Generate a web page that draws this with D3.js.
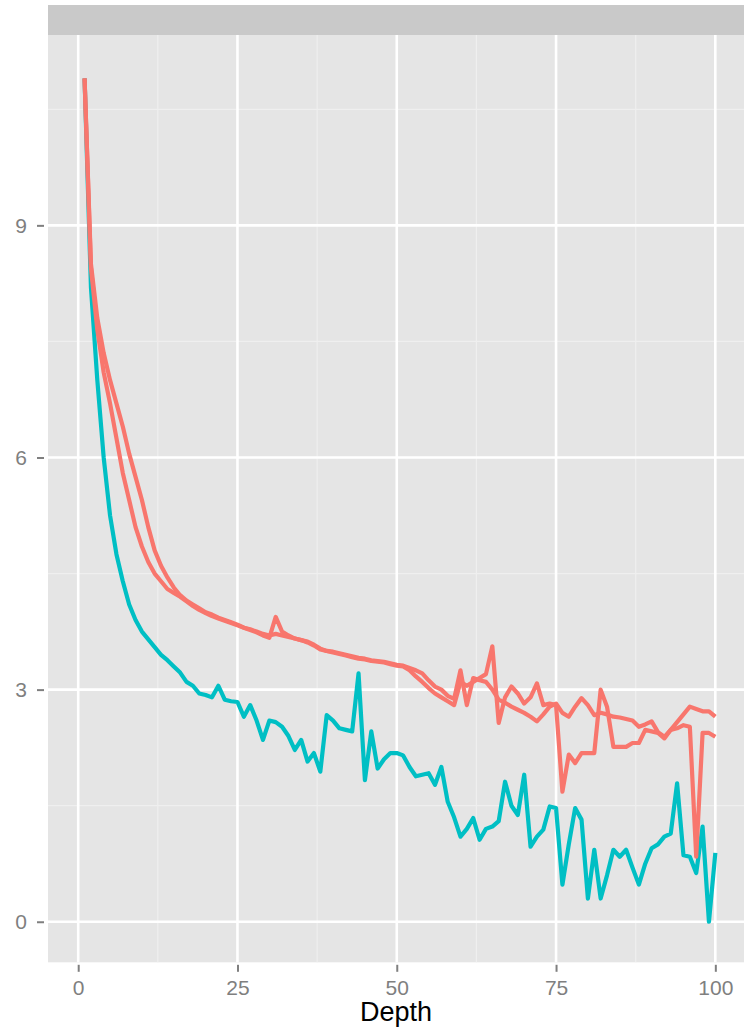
<!DOCTYPE html>
<html>
<head>
<meta charset="utf-8">
<script src="https://cdn.jsdelivr.net/npm/d3@7"></script>
<style>
  html, body { margin: 0; padding: 0; background: #ffffff; }
  svg { display: block; }
</style>
</head>
<body>
<svg id="chart" width="747" height="1029"></svg>
<script>
// Tick labels for both axes
const xTicks = [0, 25, 50, 75, 100];
const yTicks = [0, 3, 6, 9];
const xMinor = [12.5, 37.5, 62.5, 87.5];
const yMinor = [1.5, 4.5, 7.5, 10.5];
const xTitle = "Depth";

// Values by depth 1..100 (index 0 is depth 1)
const redA = [
  10.9, 8.5, 7.8, 7.35, 7.0, 6.7, 6.4, 6.05, 5.75, 5.45,
  5.1, 4.8, 4.6, 4.45, 4.32, 4.22, 4.15, 4.1, 4.05, 4.0,
  3.97, 3.93, 3.9, 3.87, 3.84, 3.8, 3.78, 3.75, 3.72, 3.7,
  3.72, 3.7, 3.68, 3.66, 3.64, 3.62, 3.58, 3.53, 3.5, 3.49,
  3.47, 3.45, 3.43, 3.41, 3.4, 3.38, 3.37, 3.36, 3.34, 3.32,
  3.31, 3.28, 3.25, 3.21, 3.12, 3.04, 3.0, 2.92, 2.88, 3.25,
  2.8, 3.15, 3.12, 3.1, 3.0, 2.87, 2.83, 2.78, 2.74, 2.7,
  2.65, 2.59, 2.68, 2.78, 2.82, 2.7, 2.65, 2.78, 2.89, 2.8,
  2.67, 2.7, 2.68, 2.65, 2.64, 2.62, 2.6, 2.52, 2.55, 2.59,
  2.45, 2.39, 2.48, 2.58, 2.68, 2.78, 2.75, 2.72, 2.72, 2.65
];
const redB = [
  10.9, 8.45, 7.65, 7.1, 6.7, 6.25, 5.8, 5.45, 5.1, 4.85,
  4.65, 4.5, 4.4, 4.3, 4.25, 4.2, 4.14, 4.08, 4.03, 3.99,
  3.95, 3.92, 3.89, 3.86, 3.83, 3.8, 3.77, 3.74, 3.7, 3.67,
  3.94, 3.75, 3.7, 3.66, 3.64, 3.61, 3.57, 3.52, 3.5, 3.48,
  3.46, 3.44, 3.42, 3.4, 3.39, 3.37, 3.36, 3.35, 3.33, 3.31,
  3.3, 3.25, 3.17, 3.1, 3.02, 2.95, 2.9, 2.85, 2.8, 3.1,
  3.05, 3.1, 3.15, 3.2, 3.56, 2.57, 2.9, 3.04, 2.95, 2.82,
  2.9, 3.08, 2.8, 2.82, 2.8, 1.68, 2.16, 2.05, 2.18, 2.18,
  2.18, 3.0, 2.78, 2.26, 2.26, 2.26, 2.31, 2.31, 2.48, 2.46,
  2.44, 2.37, 2.48, 2.5, 2.54, 2.52, 0.84, 2.44, 2.44, 2.39
];
const teal = [
  10.9, 8.2, 7.0, 6.0, 5.25, 4.75, 4.4, 4.1, 3.9, 3.75,
  3.65, 3.55, 3.45, 3.38, 3.3, 3.22, 3.1, 3.05, 2.95, 2.93,
  2.9, 3.05, 2.87, 2.85, 2.84, 2.65, 2.8, 2.6, 2.35, 2.6,
  2.58, 2.52, 2.4, 2.22, 2.35, 2.07, 2.18, 1.94, 2.67, 2.6,
  2.5, 2.48, 2.46, 3.21, 1.83, 2.46, 1.98, 2.1, 2.18, 2.18,
  2.15, 2.0, 1.88, 1.9, 1.92, 1.77, 2.0, 1.55, 1.35, 1.1,
  1.2, 1.34, 1.06, 1.2, 1.23, 1.3, 1.81, 1.5, 1.38, 1.9,
  0.97, 1.1, 1.19, 1.49, 1.47, 0.48, 1.0, 1.47, 1.32, 0.3,
  0.93, 0.3, 0.6, 0.93, 0.84, 0.93, 0.7, 0.48, 0.75, 0.95,
  1.0, 1.1, 1.14, 1.79, 0.86, 0.84, 0.63, 1.23, 0.0, 0.89
];

const series = [
  { values: teal, color: "#00BFC4" },
  { values: redA, color: "#F8766D" },
  { values: redB, color: "#F8766D" }
];

// Panel geometry
const panel = { left: 48, right: 744, top: 35, bottom: 962.3 };
const strip = { top: 5, bottom: 35 };

const x = d3.scaleLinear().domain([-4.74, 104.5]).range([panel.left, panel.right]);
const y = d3.scaleLinear().domain([-0.524, 11.46]).range([panel.bottom, panel.top]);

const svg = d3.select("#chart");

// Facet strip
svg.append("rect")
  .attr("x", panel.left).attr("y", strip.top)
  .attr("width", panel.right - panel.left).attr("height", strip.bottom - strip.top)
  .attr("fill", "#C9C9C9");

// Panel background
svg.append("rect")
  .attr("x", panel.left).attr("y", panel.top)
  .attr("width", panel.right - panel.left).attr("height", panel.bottom - panel.top)
  .attr("fill", "#E5E5E5");

const grid = svg.append("g");
// Minor grid
grid.selectAll(".vminor").data(xMinor).enter().append("line")
  .attr("x1", d => x(d)).attr("x2", d => x(d))
  .attr("y1", panel.top).attr("y2", panel.bottom)
  .attr("stroke", "#EFEFEF").attr("stroke-width", 1.2);
grid.selectAll(".hminor").data(yMinor).enter().append("line")
  .attr("y1", d => y(d)).attr("y2", d => y(d))
  .attr("x1", panel.left).attr("x2", panel.right)
  .attr("stroke", "#EFEFEF").attr("stroke-width", 1.2);
// Major grid
grid.selectAll(".vmajor").data(xTicks).enter().append("line")
  .attr("x1", d => x(d)).attr("x2", d => x(d))
  .attr("y1", panel.top).attr("y2", panel.bottom)
  .attr("stroke", "#FFFFFF").attr("stroke-width", 2.6);
grid.selectAll(".hmajor").data(yTicks).enter().append("line")
  .attr("y1", d => y(d)).attr("y2", d => y(d))
  .attr("x1", panel.left).attr("x2", panel.right)
  .attr("stroke", "#FFFFFF").attr("stroke-width", 2.6);

// Lines
const line = d3.line()
  .x((d, i) => x(i + 1))
  .y(d => y(d));

svg.append("g").selectAll("path").data(series).enter().append("path")
  .attr("d", d => line(d.values))
  .attr("fill", "none")
  .attr("stroke", d => d.color)
  .attr("stroke-width", 4.2)
  .attr("stroke-linejoin", "round")
  .attr("stroke-linecap", "butt");

// X axis
const xAxis = d3.axisBottom(x).tickValues(xTicks).tickSize(7).tickPadding(8).tickFormat(d3.format("d"));
const gx = svg.append("g").attr("transform", `translate(0,${panel.bottom + 2.5})`).call(xAxis);
gx.select(".domain").remove();
gx.selectAll(".tick line").attr("stroke", "#7F7F7F").attr("stroke-width", 2);
gx.selectAll(".tick text")
  .attr("fill", "#7F7F7F")
  .style("font-family", "'Liberation Sans', Arial, sans-serif")
  .style("font-size", "21px");

// Y axis
const yAxis = d3.axisLeft(y).tickValues(yTicks).tickSize(7).tickPadding(10).tickFormat(d3.format("d"));
const gy = svg.append("g").attr("transform", `translate(${panel.left - 4},0)`).call(yAxis);
gy.select(".domain").remove();
gy.selectAll(".tick line").attr("stroke", "#7F7F7F").attr("stroke-width", 2);
gy.selectAll(".tick text")
  .attr("fill", "#7F7F7F")
  .style("font-family", "'Liberation Sans', Arial, sans-serif")
  .style("font-size", "21px");

// Axis title
svg.append("text")
  .attr("x", (panel.left + panel.right) / 2)
  .attr("y", 1021)
  .attr("text-anchor", "middle")
  .attr("fill", "#000000")
  .style("font-family", "'Liberation Sans', Arial, sans-serif")
  .style("font-size", "27px")
  .text(xTitle);
</script>
</body>
</html>
